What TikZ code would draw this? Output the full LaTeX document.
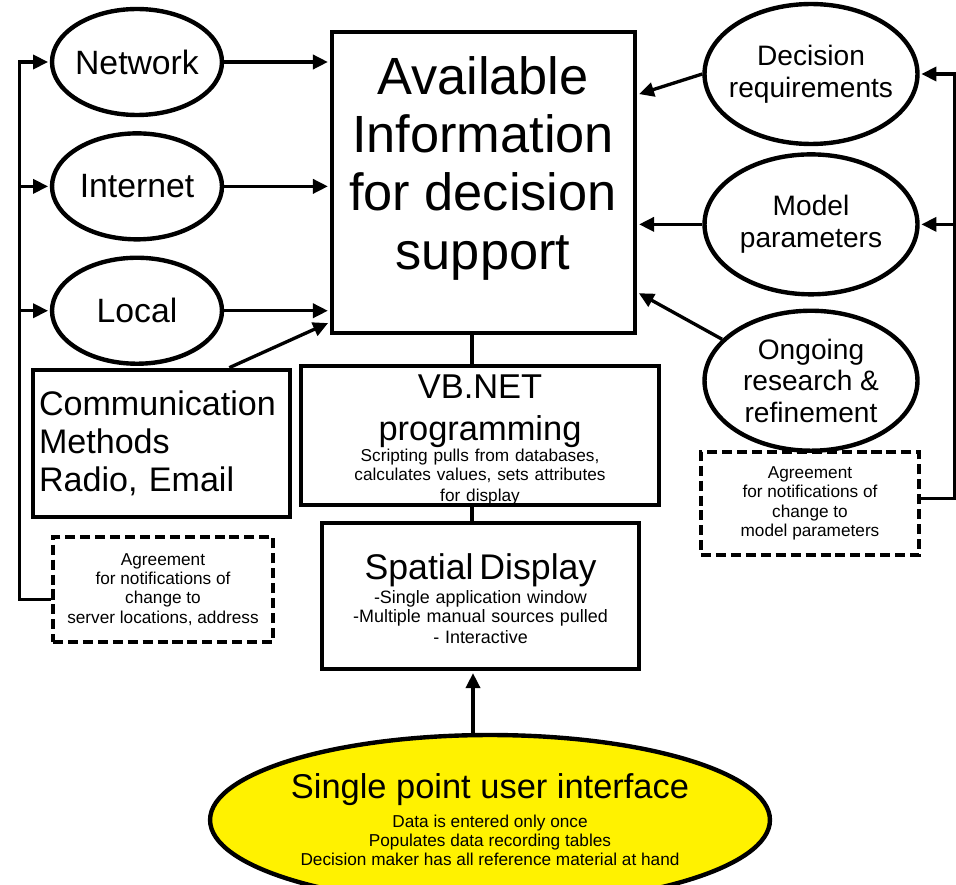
\documentclass[tikz,border=0pt]{standalone}
\usepackage{fontspec}
\setmainfont{Liberation Sans}
\usetikzlibrary{arrows.meta,positioning,shapes.geometric}
\newcommand{\infofont}{\fontsize{29.8}{33.2}\selectfont}
\newcommand{\bubblefont}{\fontsize{19.2}{22}\selectfont}
\newcommand{\smallbubblefont}{\fontsize{16}{18}\selectfont}
\newcommand{\boxfont}{\fontsize{19.6}{23.8}\selectfont}
\newcommand{\notefont}{\fontsize{9.8}{11}\selectfont}
\tikzset{
    %Define standard arrow tip
    >={Triangle[length=8.5pt,width=8pt]},
    %Define style for ellipses
    bubble/.style={
      ellipse,
      draw=black, line width=2.5pt,
      inner xsep=-0.2cm, inner ysep=0pt,
      align=center,
      font=\bubblefont},
    %Define style for boxes
    block/.style={
      rectangle,
      draw=black, line width=2.7pt,
      inner sep=0pt},
    %Define style for dashed boxes
    note/.style={
      rectangle,
      draw=black, line width=2.4pt,
      dash pattern=on 5.7pt off 2.8pt,
      inner sep=0pt,
      align=center,
      font=\notefont},
    % Define arrow styles
    arr/.style={
      ->,
      line width=1.9pt,
      shorten >=1pt},
    link/.style={
      line width=1.9pt}
}
\begin{document}
\begin{tikzpicture}[x=0.02cm, y=-0.02cm]
    \useasboundingbox (0,0) rectangle (956,885);

    \node[block, minimum width=6.06cm, minimum height=6.02cm] (info) at (483.5,182.5) {};
    \node[font=\infofont, align=center] (infotxt) at (483,168)
      {Available\\Information\\for decision\\support};

    \node[bubble, minimum width=3.4cm, minimum height=2.12cm] (net) at (137,62) {Network};
    \node[bubble, minimum width=3.4cm, minimum height=2.12cm, below=0.28cm of net] (inet) {Internet};
    \node[bubble, minimum width=3.4cm, minimum height=2.12cm, below=0.28cm of inet] (loc) {Local};

    \node[bubble, font=\smallbubblefont, minimum width=4.26cm, minimum height=2.8cm] (dec) at (811,74)
      {Decision\\requirements};
    \node[bubble, font=\smallbubblefont, minimum width=4.26cm, minimum height=2.8cm, below=0.12cm of dec] (mod)
      {Model\\parameters};
    \node[bubble, font=\smallbubblefont, minimum width=4.26cm, minimum height=2.8cm, below=0.24cm of mod] (ong)
      {Ongoing\\research \&\\refinement};

    \node[block, minimum width=5.14cm, minimum height=2.94cm, text width=4.9cm, align=left,
      font=\fontsize{19.4}{21.8}\selectfont] (comm) at (161.5,443.5)
      {Communication\\Methods\\Radio, Email};

    \node[block, minimum width=7.16cm, minimum height=2.78cm] (vb) at (480,435.5) {};
    \node[text width=7cm, align=center] (vbtxt) at (480,440)
      {\boxfont VB.NET\\programming\par\notefont Scripting pulls from databases,\\calculates values, sets attributes\\for display};
    \node[block, minimum width=6.34cm, minimum height=2.92cm] (disp) at (480.5,596) {};
    \node[text width=6.2cm, align=center] (disptxt) at (480.5,599)
      {\fontsize{20.3}{24}\selectfont Spatial Display\par\vspace{1pt}\fontsize{10.2}{11}\selectfont -Single application window\\-Multiple manual sources pulled\\- Interactive};

    \node[note, minimum width=4.4cm, minimum height=2.1cm] (agrL) at (163,589.5)
      {Agreement\\for notifications of\\change to\\server locations, address};
    \node[note, minimum width=4.36cm, minimum height=2.06cm] (agrR) at (810,503.5)
      {Agreement\\for notifications of\\change to\\model parameters};

    \node[bubble, fill=yellow, inner xsep=-0.12cm, minimum width=11.2cm, minimum height=3.4cm, font=\notefont] (ui) at (490,820)
      {{\boxfont Single point user interface}\\[4pt]Data is entered only once\\Populates data recording tables\\Decision maker has all reference material at hand};

    \draw[arr] (net.east) -- (net.east -| info.west);
    \draw[arr] (inet.east) -- (inet.east -| info.west);
    \draw[arr] (loc.east) -- (loc.east -| info.west);
    \draw[arr] ([xshift=-1.26cm]comm.north east) -- ([yshift=0.26cm]info.south west);

    \draw[arr] (dec.west) -- ([yshift=-1.3cm]info.north east);
    \draw[arr] (mod.west) -- (mod.west -| info.east);
    \draw[arr] (ong.155) -- ([yshift=0.86cm]info.south east);

    \draw[link] ([xshift=-0.23cm]info.south) -- ([xshift=-0.23cm]info.south |- vb.north);
    \draw[link] ([xshift=-0.16cm]vb.south) -- ([xshift=-0.16cm]vb.south |- disp.north);
    \draw[arr] ([xshift=-0.34cm]ui.north) -- ([xshift=-0.34cm]ui.north |- disp.south);

    \coordinate[left=0.6cm of net.west] (busL);
    \draw[arr] ([yshift=-0.2cm]agrL.west) -| (busL) -- (net.west);
    \draw[arr] (busL |- inet.west) -- (inet.west);
    \draw[arr] (busL |- loc.west) -- (loc.west);

    \coordinate[right=0.7cm of dec.east] (busR);
    \draw[arr] ([yshift=0.1cm]agrR.east) -| (busR) -- (dec.east);
    \draw[arr] (busR |- mod.east) -- (mod.east);
\end{tikzpicture}
\end{document}
